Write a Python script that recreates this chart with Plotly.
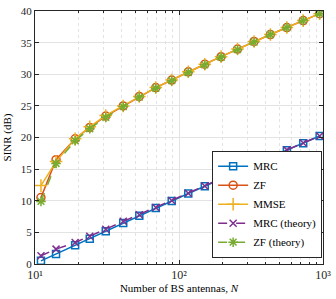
import plotly.graph_objects as go

N = [11, 14, 19, 24, 31, 41, 53, 69, 89, 116, 151, 196, 255, 332, 431, 561, 729, 948]
mrc = [0.5, 1.6, 2.95, 4.0, 5.2, 6.5, 7.65, 8.85, 9.97, 11.15, 12.3, 13.5, 14.6, 15.8, 16.9, 18.0, 19.1, 20.25]
zf = [10.5, 16.5, 19.8, 21.6, 23.4, 25.0, 26.5, 27.9, 29.1, 30.4, 31.6, 32.8, 34.0, 35.2, 36.3, 37.4, 38.5, 39.6]
mmse = [12.4, 16.2, 19.8, 21.7, 23.5, 25.0, 26.5, 27.9, 29.1, 30.4, 31.6, 32.8, 34.0, 35.2, 36.3, 37.4, 38.5, 39.6]
mrc_th = [1.3, 2.35, 3.4, 4.4, 5.5, 6.75, 7.8, 8.95, 10.05, 11.2, 12.35, 13.5, 14.65, 15.8, 16.95, 18.05, 19.15, 20.25]
zf_th = [9.9, 15.9, 19.5, 21.4, 23.2, 24.9, 26.4, 27.8, 29.0, 30.3, 31.5, 32.7, 33.9, 35.1, 36.3, 37.4, 38.5, 39.6]

x_tickvals = [10, 100, 1000]
x_ticktext = ["10¹", "10²", "10³"]
x_minor = [20, 30, 40, 50, 60, 70, 80, 90, 200, 300, 400, 500, 600, 700, 800, 900]
y_tickvals = [0, 5, 10, 15, 20, 25, 30, 35, 40]

FONT = "Liberation Serif"

fig = go.Figure()
series = [
    ("MRC", mrc, "#0072BD", "solid", "square-open", 7),
    ("ZF", zf, "#D95319", "solid", "circle-open", 8),
    ("MMSE", mmse, "#EDB120", "solid", "cross-thin-open", 9),
    ("MRC (theory)", mrc_th, "#7E2F8E", "dash", "x-thin-open", 7),
    ("ZF (theory)", zf_th, "#77AC30", "dash", "asterisk-open", 8),
]
for name, y, c, dash, sym, sz in series:
    fig.add_trace(go.Scatter(
        x=N, y=y, name=name, mode="lines+markers",
        line=dict(color=c, width=1.5, dash=dash),
        marker=dict(symbol=sym, size=sz, color=c, line=dict(color=c, width=1.5)),
    ))

fig.update_layout(
    width=336, height=299,
    margin=dict(l=35, r=11, t=5, b=35),
    paper_bgcolor="white", plot_bgcolor="white",
    font=dict(family=FONT, size=11, color="#262626"),
    showlegend=True,
    legend=dict(
        x=0.997, y=0.025, xanchor="right", yanchor="bottom",
        bgcolor="white", bordercolor="#262626", borderwidth=1,
        font=dict(family=FONT, size=11, color="#000"),
        tracegroupgap=0, itemwidth=30,
    ),
)
fig.update_xaxes(
    type="log", range=[1, 3],
    tickmode="array", tickvals=x_tickvals, ticktext=x_ticktext,
    tickfont=dict(family=FONT, size=12, color="#262626"),
    ticklabeloverflow="allow",
    showline=True, linecolor="#262626", linewidth=1, mirror="ticks",
    ticks="inside", ticklen=4, tickcolor="#262626",
    showgrid=True, gridcolor="#e3e3e3", gridwidth=1,
    minor=dict(tickmode="array", tickvals=x_minor, ticks="inside", ticklen=2,
               tickcolor="#262626", showgrid=True,
               gridcolor="#e3e3e3", griddash="dot"),
    zeroline=False,
    title=dict(text="Number of BS antennas, <i>N</i>", standoff=2,
               font=dict(family=FONT, size=11, color="#000")),
)
fig.update_yaxes(
    range=[0, 40.02], tickmode="array", tickvals=y_tickvals,
    ticklabeloverflow="allow",
    showline=True, linecolor="#262626", linewidth=1, mirror="ticks",
    ticks="inside", ticklen=4, tickcolor="#262626",
    showgrid=True, gridcolor="#e3e3e3", gridwidth=1,
    zeroline=False,
    title=dict(text="SINR (dB)", standoff=6,
               font=dict(family=FONT, size=11, color="#000")),
)

fig.write_html("out.html", config={"displayModeBar": False},
               post_script="document.body.style.margin='0';")
